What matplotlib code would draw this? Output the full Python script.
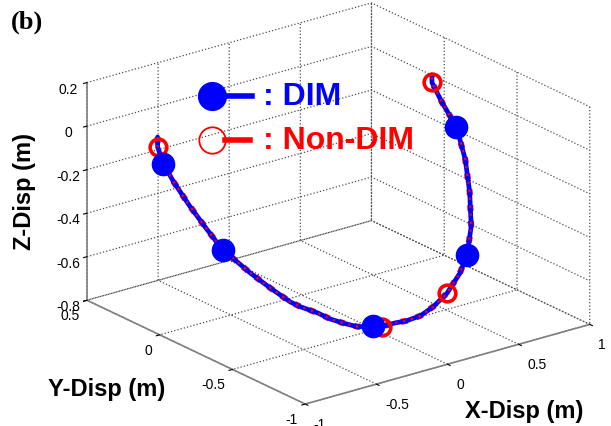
import numpy as np
import matplotlib
matplotlib.use("Agg")
import matplotlib.pyplot as plt
from matplotlib.lines import Line2D
from mpl_toolkits.mplot3d import proj3d

# ---------------- data ----------------
x_disp = [-0.79, -0.80, -0.79, -0.77, -0.74, -0.70, -0.66, -0.62, -0.57, -0.50, -0.44, -0.40, -0.32,
          -0.26, -0.20, -0.11, -0.01, 0.02, 0.09, 0.16, 0.27, 0.39, 0.54, 0.64, 0.70, 0.76, 0.79,
          0.81, 0.81, 0.77, 0.75, 0.76]
y_disp = [0.22, 0.21, 0.18, 0.13, 0.05, -0.03, -0.10, -0.15, -0.20, -0.27, -0.35, -0.38, -0.42,
          -0.45, -0.48, -0.49, -0.50, -0.53, -0.55, -0.56, -0.55, -0.52, -0.47, -0.46, -0.45, -0.42,
          -0.38, -0.33, -0.27, -0.21, -0.16, -0.15]
z_disp = [0.00, -0.04, -0.11, -0.18, -0.27, -0.36, -0.44, -0.48, -0.53, -0.59, -0.64, -0.66, -0.69,
          -0.72, -0.74, -0.77, -0.78, -0.78, -0.77, -0.77, -0.77, -0.76, -0.74, -0.67, -0.60, -0.49,
          -0.35, -0.22, -0.09, 0.01, 0.09, 0.12]
dim_idx = [2, 6, 16, 24, 28]        # DIM marker samples
nondim_idx = [1, 17, 22, 30]        # Non-DIM marker samples

x_ticks = [-1, -0.5, 0, 0.5, 1]
x_ticklabels = ["-1", "-0.5", "0", "0.5", "1"]
y_ticks = [-1, -0.5, 0, 0.5]
y_ticklabels = ["-1", "-0.5", "0", "0.5"]
z_ticks = [-0.8, -0.6, -0.4, -0.2, 0, 0.2]
z_ticklabels = ["-0.8", "-0.6", "-0.4", "-0.2", "0", "0.2"]

# ---------------- style ----------------
plt.rcParams["font.family"] = ["Liberation Sans", "DejaVu Sans"]
plt.rcParams["axes.unicode_minus"] = False
plt.rcParams["grid.color"] = "0.3"
plt.rcParams["grid.linestyle"] = ":"
plt.rcParams["grid.linewidth"] = 0.9

W, H = 611, 427
fig = plt.figure(figsize=(W / 100, H / 100), dpi=100)
ax = fig.add_subplot(projection="3d", proj_type="ortho", computed_zorder=False)
ax.set_box_aspect((1, 1, 0.652))
ax.view_init(elev=21.4, azim=-127.5)

for setter, lims in ((ax.set_xlim, (-1, 1)), (ax.set_ylim, (-1, 0.5)), (ax.set_zlim, (-0.8, 0.2))):
    try:
        setter(*lims, view_margin=0)
    except TypeError:
        setter(*lims)

ax.set_xticks(x_ticks)
ax.set_xticklabels(x_ticklabels, ha="left")
ax.set_yticks(y_ticks)
ax.set_yticklabels(y_ticklabels, ha="right")
ax.set_zticks(z_ticks)
ax.set_zticklabels(z_ticklabels)
ax.tick_params(labelsize=10, colors="black")
ax.xaxis.set_tick_params(pad=0.0)
ax.yaxis.set_tick_params(pad=-2.5)
ax.zaxis.set_tick_params(pad=-0.5)

for axis in (ax.xaxis, ax.yaxis, ax.zaxis):
    axis.set_pane_color((1, 1, 1, 1))
    axis._axinfo["axisline"]["color"] = (0.5, 0.5, 0.5, 1)
    axis._axinfo["axisline"]["linewidth"] = 1.2
    axis._axinfo["tick"]["inward_factor"] = 0.15
    axis._axinfo["tick"]["outward_factor"] = 0.0
    axis._axinfo["tick"]["color"] = (0.4, 0.4, 0.4, 1)
    try:
        axis.line.set_color((0.5, 0.5, 0.5, 1))
        axis.line.set_linewidth(1.2)
    except Exception:
        pass

# curve: DIM (blue) and Non-DIM (red dotted) overlapping
ax.plot(x_disp, y_disp, z_disp, color="red", lw=4.4, linestyle=(0, (1.0, 1.6)), zorder=1.9)
ax.plot(x_disp, y_disp, z_disp, color="blue", lw=3.4, zorder=2, solid_capstyle="round",
        solid_joinstyle="round")
ax.plot(x_disp, y_disp, z_disp, color="red", lw=1.6, linestyle=(0, (1.0, 2.6)), zorder=2.5)

ax.plot([x_disp[i] for i in nondim_idx], [y_disp[i] for i in nondim_idx], [z_disp[i] for i in nondim_idx],
        linestyle="none", marker="o", markersize=12, markerfacecolor="none",
        markeredgecolor="red", markeredgewidth=2.6, zorder=3)
ax.plot([x_disp[i] for i in dim_idx], [y_disp[i] for i in dim_idx], [z_disp[i] for i in dim_idx],
        linestyle="none", marker="o", markersize=16, markerfacecolor="blue",
        markeredgecolor="blue", zorder=4)

# ---------------- fit the 3D box into the frame of the reference ----------------
fig.canvas.draw()
corners = np.array([[-1, -1, -0.8], [1, -1, -0.8], [-1, 0.5, 0.2]], float)
px, py, _ = proj3d.proj_transform(corners[:, 0], corners[:, 1], corners[:, 2], ax.M)
disp = ax.transData.transform(np.column_stack([px, py]))
target = np.array([[305, H - 405], [590, H - 325], [87, H - 84]], float)
s = (np.linalg.norm(target[1] - target[0]) + np.linalg.norm(target[2] - target[0])) / \
    (np.linalg.norm(disp[1] - disp[0]) + np.linalg.norm(disp[2] - disp[0]))
bb = ax.get_position()
bx0, by0, bw, bh = bb.x0 * W, bb.y0 * H, bb.width * W, bb.height * H
c = np.array([bx0 + bw / 2, by0 + bh / 2])
cn = target.mean(axis=0) - s * (disp.mean(axis=0) - c)
nw, nh = s * bw, s * bh
ax.set_position([(cn[0] - nw / 2) / W, (cn[1] - nh / 2) / H, nw / W, nh / H])

# ---------------- axis titles, panel label, legend ----------------
def fx(p):
    return p / W

def fy(p):
    return 1 - p / H

fig.text(fx(24), fy(191), "Z-Disp (m)", rotation=90, ha="center", va="center",
         fontsize=17, fontweight="bold")
fig.text(fx(107), fy(390), "Y-Disp (m)", ha="center", va="center", fontsize=17, fontweight="bold")
fig.text(fx(524), fy(412), "X-Disp (m)", ha="center", va="center", fontsize=17, fontweight="bold")
fig.text(fx(27), fy(22), "(b)", ha="center", va="center", fontsize=19, fontweight="bold",
         family=["Liberation Serif", "DejaVu Serif"])

fig.add_artist(Line2D([fx(212), fx(252)], [fy(97), fy(97)], color="blue", lw=4,
                      transform=fig.transFigure))
fig.add_artist(Line2D([fx(212)], [fy(97)], marker="o", markersize=20, color="blue",
                      transform=fig.transFigure))
fig.add_artist(Line2D([fx(225), fx(250)], [fy(141), fy(141)], color="red", lw=4,
                      transform=fig.transFigure))
fig.add_artist(Line2D([fx(212)], [fy(141)], marker="o", markersize=19, markerfacecolor="none",
                      markeredgecolor="red", markeredgewidth=1.3, transform=fig.transFigure))
fig.text(fx(263), fy(97), ": DIM", ha="left", va="center", fontsize=23, fontweight="bold", color="blue")
fig.text(fx(263), fy(141), ": Non-DIM", ha="left", va="center", fontsize=23, fontweight="bold", color="red")

fig.savefig("out.png", dpi=100)
